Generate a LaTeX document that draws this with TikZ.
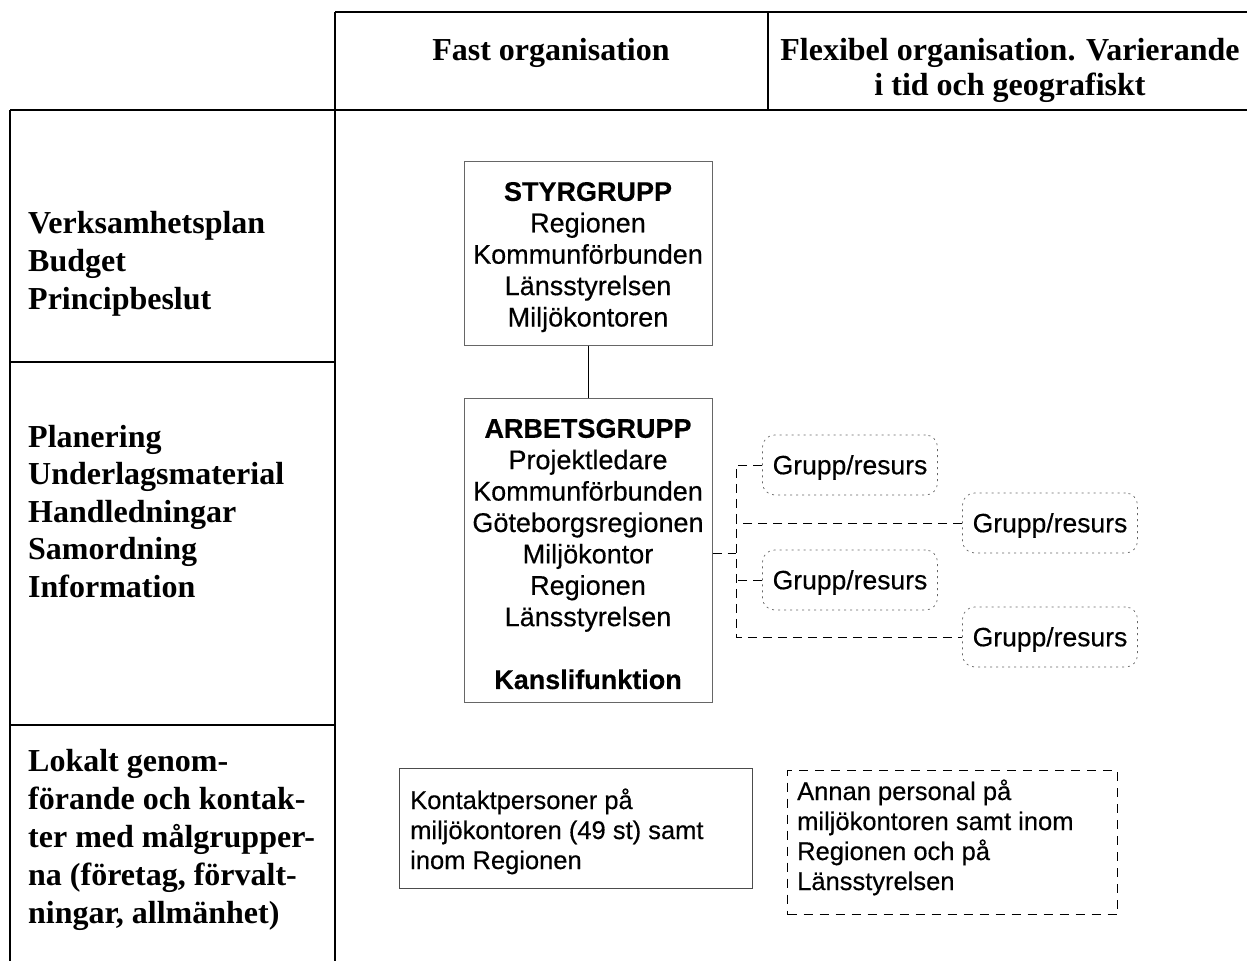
\documentclass[tikz,border=0pt]{standalone}
\usepackage{fontspec}
\setmainfont{Liberation Serif}
\setsansfont{Liberation Sans}[FakeBold=0.4]
\begin{document}
\begin{tikzpicture}[x=1pt,y=-1pt,
  grid/.style={line width=2pt},
  hd/.style={font=\fontsize{32}{36}\selectfont\bfseries, inner sep=0, anchor=base},
  lt/.style={font=\fontsize{32}{38}\selectfont\bfseries, inner sep=0, anchor=base west},
  grp/.style={draw=black!60, line width=1pt, align=center, font=\sffamily\fontsize{27}{31.4}\selectfont, inner sep=0, minimum width=248},
  res/.style={draw=black!60, line width=0.7pt, dash pattern=on 2pt off 4pt, rounded corners=12pt, minimum width=175, minimum height=60, font=\sffamily\fontsize{26.5}{30}\selectfont, inner sep=0},
  conn/.style={dash pattern=on 9pt off 6pt, line width=1pt},
  bt/.style={font=\sffamily\fontsize{25.5}{30}\selectfont, inner sep=0, anchor=base west}]
\useasboundingbox (0,0) rectangle (1247,961);
% grid
\draw[grid] (335,12) -- (1247,12);
\draw[grid] (10,110) -- (1247,110);
\draw[grid] (335,12) -- (335,961);
\draw[grid] (768,12) -- (768,110);
\draw[grid] (10,110) -- (10,961);
\draw[grid] (10,362) -- (335,362);
\draw[grid] (10,725) -- (335,725);
% headers
\node[hd] (h1) at (551,60) {Fast organisation};
\node[hd] (h2a) at (1010,60) {Flexibel organisation. Varierande};
\node[hd] (h2b) at (1010,95) {i tid och geografiskt};
% left column
\foreach \t [count=\i] in {Verksamhetsplan,Budget,Principbeslut}
  \node[lt] (a\i) at (28,{233+38*(\i-1)}) {\t};
\foreach \t [count=\i] in {Planering,Underlagsmaterial,Handledningar,Samordning,Information}
  \node[lt] (b\i) at (28,{447+37.5*(\i-1)}) {\t};
\foreach \t [count=\i] in {Lokalt genom-,förande och kontak-,ter med målgrupper-,{na (företag, förvalt-},{ningar, allmänhet)}}
  \node[lt] (c\i) at (28,{771+38*(\i-1)}) {\t};
% boxes
\node[grp, minimum height=184] (styr) at (588,253)
  {\rule{0pt}{27pt}\textbf{STYRGRUPP}\\Regionen\\Kommunförbunden\\Länsstyrelsen\\Miljökontoren};
\node[grp, minimum height=304] (arb) at (588,550)
  {\rule{0pt}{27pt}\textbf{ARBETSGRUPP}\\Projektledare\\Kommunförbunden\\Göteborgsregionen\\Miljökontor\\Regionen\\Länsstyrelsen\\[31.4pt]\textbf{Kanslifunktion}};
\draw[line width=1pt] (styr) -- (arb);
% resources
\node[res] (r1) at (850,465) {\rule{0pt}{24pt}Grupp/resurs};
\node[res] (r2) at (1050,523) {\rule{0pt}{24pt}Grupp/resurs};
\node[res] (r3) at (850,580) {\rule{0pt}{24pt}Grupp/resurs};
\node[res] (r4) at (1050,637) {\rule{0pt}{24pt}Grupp/resurs};
\coordinate (j) at (736,553);
\draw[conn] (arb.east |- j) -- (j);
\draw[conn] (r1.west) -| (j) |- (r4.west);
\draw[conn] (r2.west) -- (r2.west -| j);
\draw[conn] (r3.west) -- (r3.west -| j);
% bottom boxes
\node[draw=black!70, line width=1pt, minimum width=353, minimum height=120, anchor=north west, inner sep=0] (kont) at (399,768) {};
\foreach \t [count=\i] in {Kontaktpersoner på,miljökontoren (49 st) samt,inom Regionen}
  \node[bt] (k\i) at (410,{809+30*(\i-1)}) {\t};
\node[draw, dash pattern=on 9pt off 7pt, line width=1pt, minimum width=330, minimum height=144, anchor=north west, inner sep=0] (annan) at (787,770) {};
\foreach \t [count=\i] in {Annan personal på,miljökontoren samt inom,Regionen och på,Länsstyrelsen}
  \node[bt] (n\i) at (797,{800+30*(\i-1)}) {\t};
\end{tikzpicture}
\end{document}
